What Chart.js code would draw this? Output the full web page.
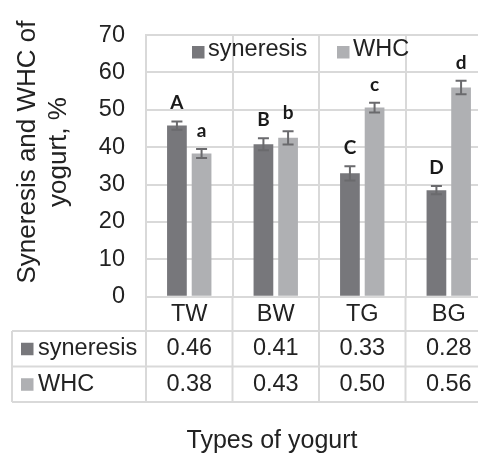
<!DOCTYPE html>
<html>
<head>
<meta charset="utf-8">
<script src="https://cdn.jsdelivr.net/npm/chart.js"></script>
<style>
  html, body { margin: 0; padding: 0; background: #fff; overflow: hidden; }
  #wrap { width: 500px; height: 455px; }
</style>
</head>
<body>
<div id="wrap"><canvas id="chart" width="500" height="455"></canvas></div>
<script>
// data
const categories = ['TW', 'BW', 'TG', 'BG'];
const syneresis = [45.8, 40.8, 33.0, 28.5];
const whc = [38.3, 42.5, 50.6, 56.0];
const syneresisErr = [1.1, 1.6, 1.9, 1.1];
const whcErr = [1.2, 1.8, 1.3, 1.8];
const syneresisLetters = ['A', 'B', 'C', 'D'];
const whcLetters = ['a', 'b', 'c', 'd'];
const syneresisTable = ['0.46', '0.41', '0.33', '0.28'];
const whcTable = ['0.38', '0.43', '0.50', '0.56'];
const yMax = 70;
const yStep = 10;

const darkGrey = '#77777b';
const lightGrey = '#afb0b3';
const errColor = '#6a6a6d';
const gridColor = '#d9d9d9';
const textColor = '#222';
const font = "'Liberation Sans', Arial, sans-serif";

const errs = [syneresisErr, whcErr];
const letters = [syneresisLetters, whcLetters];
const tableRows = [syneresisTable, whcTable];

// error bars, letters, legend, data table and titles
const extras = {
    id: 'extras',
    afterDatasetsDraw(chart) {
        const ctx = chart.ctx;
        const y = chart.scales.y;
        ctx.save();
        chart.data.datasets.forEach((ds, i) => {
            const meta = chart.getDatasetMeta(i);
            meta.data.forEach((bar, j) => {
                const v = ds.data[j];
                const e = errs[i][j];
                const top = y.getPixelForValue(v + e);
                const bot = y.getPixelForValue(v - e);
                ctx.strokeStyle = errColor;
                ctx.lineWidth = 2;
                ctx.beginPath();
                ctx.moveTo(bar.x, top);
                ctx.lineTo(bar.x, bot);
                ctx.moveTo(bar.x - 5.5, top);
                ctx.lineTo(bar.x + 5.5, top);
                ctx.moveTo(bar.x - 5.5, bot);
                ctx.lineTo(bar.x + 5.5, bot);
                ctx.stroke();

                ctx.fillStyle = '#1a1a1a';
                ctx.font = "bold 19px Lato, 'Open Sans', sans-serif";
                ctx.textAlign = 'center';
                ctx.textBaseline = 'alphabetic';
                ctx.fillText(letters[i][j], bar.x, top - 12);
            });
        });
        ctx.restore();
    },
    afterDraw(chart) {
        const ctx = chart.ctx;
        const x = chart.scales.x;
        const area = chart.chartArea;
        const catW = (x.right - x.left) / categories.length;
        const rowLines = [331, 366.5, 402];
        const tableLeft = 12;
        ctx.save();

        // legend inside plot
        ctx.font = '23.5px ' + font;
        ctx.textBaseline = 'middle';
        ctx.textAlign = 'left';
        const legendX = [192, 337];
        chart.data.datasets.forEach((ds, i) => {
            ctx.fillStyle = ds.backgroundColor;
            ctx.fillRect(legendX[i], 46, 12.5, 12.5);
            ctx.fillStyle = textColor;
            ctx.fillText(ds.label, legendX[i] + 16, 50);
        });

        // table lines
        ctx.strokeStyle = gridColor;
        ctx.lineWidth = 2;
        ctx.beginPath();
        for (let j = 0; j <= categories.length; j++) {
            const bx = x.left + j * catW;
            ctx.moveTo(bx, area.bottom);
            ctx.lineTo(bx, rowLines[2]);
        }
        ctx.moveTo(tableLeft, rowLines[0]);
        ctx.lineTo(tableLeft, rowLines[2]);
        rowLines.forEach(ly => {
            ctx.moveTo(tableLeft, ly);
            ctx.lineTo(x.right, ly);
        });
        ctx.stroke();

        // table rows
        chart.data.datasets.forEach((ds, i) => {
            const cy = (rowLines[i] + rowLines[i + 1]) / 2;
            ctx.fillStyle = ds.backgroundColor;
            ctx.fillRect(21, cy - 6, 12.5, 12.5);
            ctx.fillStyle = textColor;
            ctx.textAlign = 'left';
            ctx.fillText(ds.label, 38, cy);
            ctx.textAlign = 'center';
            tableRows[i].forEach((t, j) => {
                ctx.fillText(t, x.getPixelForValue(j), cy);
            });
        });

        // axis titles
        ctx.fillStyle = textColor;
        ctx.font = '25px ' + font;
        ctx.textAlign = 'center';
        ctx.fillText('Types of yogurt', 272, 441);
        ctx.font = '26px ' + font;
        ctx.translate(28, 152);
        ctx.rotate(-Math.PI / 2);
        ctx.fillText('Syneresis and WHC of', 0, 0);
        ctx.fillText('yogurt, %', 0, 31);
        ctx.restore();
    }
};

new Chart(document.getElementById('chart'), {
    type: 'bar',
    data: {
        labels: categories,
        datasets: [
            { label: 'syneresis', data: syneresis, backgroundColor: darkGrey,
              barPercentage: 0.8, categoryPercentage: 0.57 },
            { label: 'WHC', data: whc, backgroundColor: lightGrey,
              barPercentage: 0.8, categoryPercentage: 0.57 }
        ]
    },
    options: {
        responsive: false,
        animation: false,
        devicePixelRatio: 1,
        layout: { padding: { left: 0, right: 8, top: 24, bottom: 0 } },
        plugins: {
            legend: { display: false },
            tooltip: { enabled: false }
        },
        scales: {
            x: {
                afterFit(scale) { scale.height = 455 - 296.7; },
                grid: { color: gridColor, lineWidth: 2, drawTicks: false },
                border: { color: gridColor, width: 2 },
                ticks: {
                    color: textColor,
                    font: { family: font, size: 23.5 },
                    padding: 4,
                    autoSkip: false,
                    maxRotation: 0
                }
            },
            y: {
                min: 0,
                max: yMax,
                afterFit(scale) { scale.width = 146; },
                grid: { color: gridColor, lineWidth: 2, drawTicks: false },
                border: { color: gridColor, width: 2 },
                ticks: {
                    stepSize: yStep,
                    color: textColor,
                    font: { family: font, size: 23.5 },
                    padding: 21
                }
            }
        }
    },
    plugins: [extras]
});
</script>
</body>
</html>
